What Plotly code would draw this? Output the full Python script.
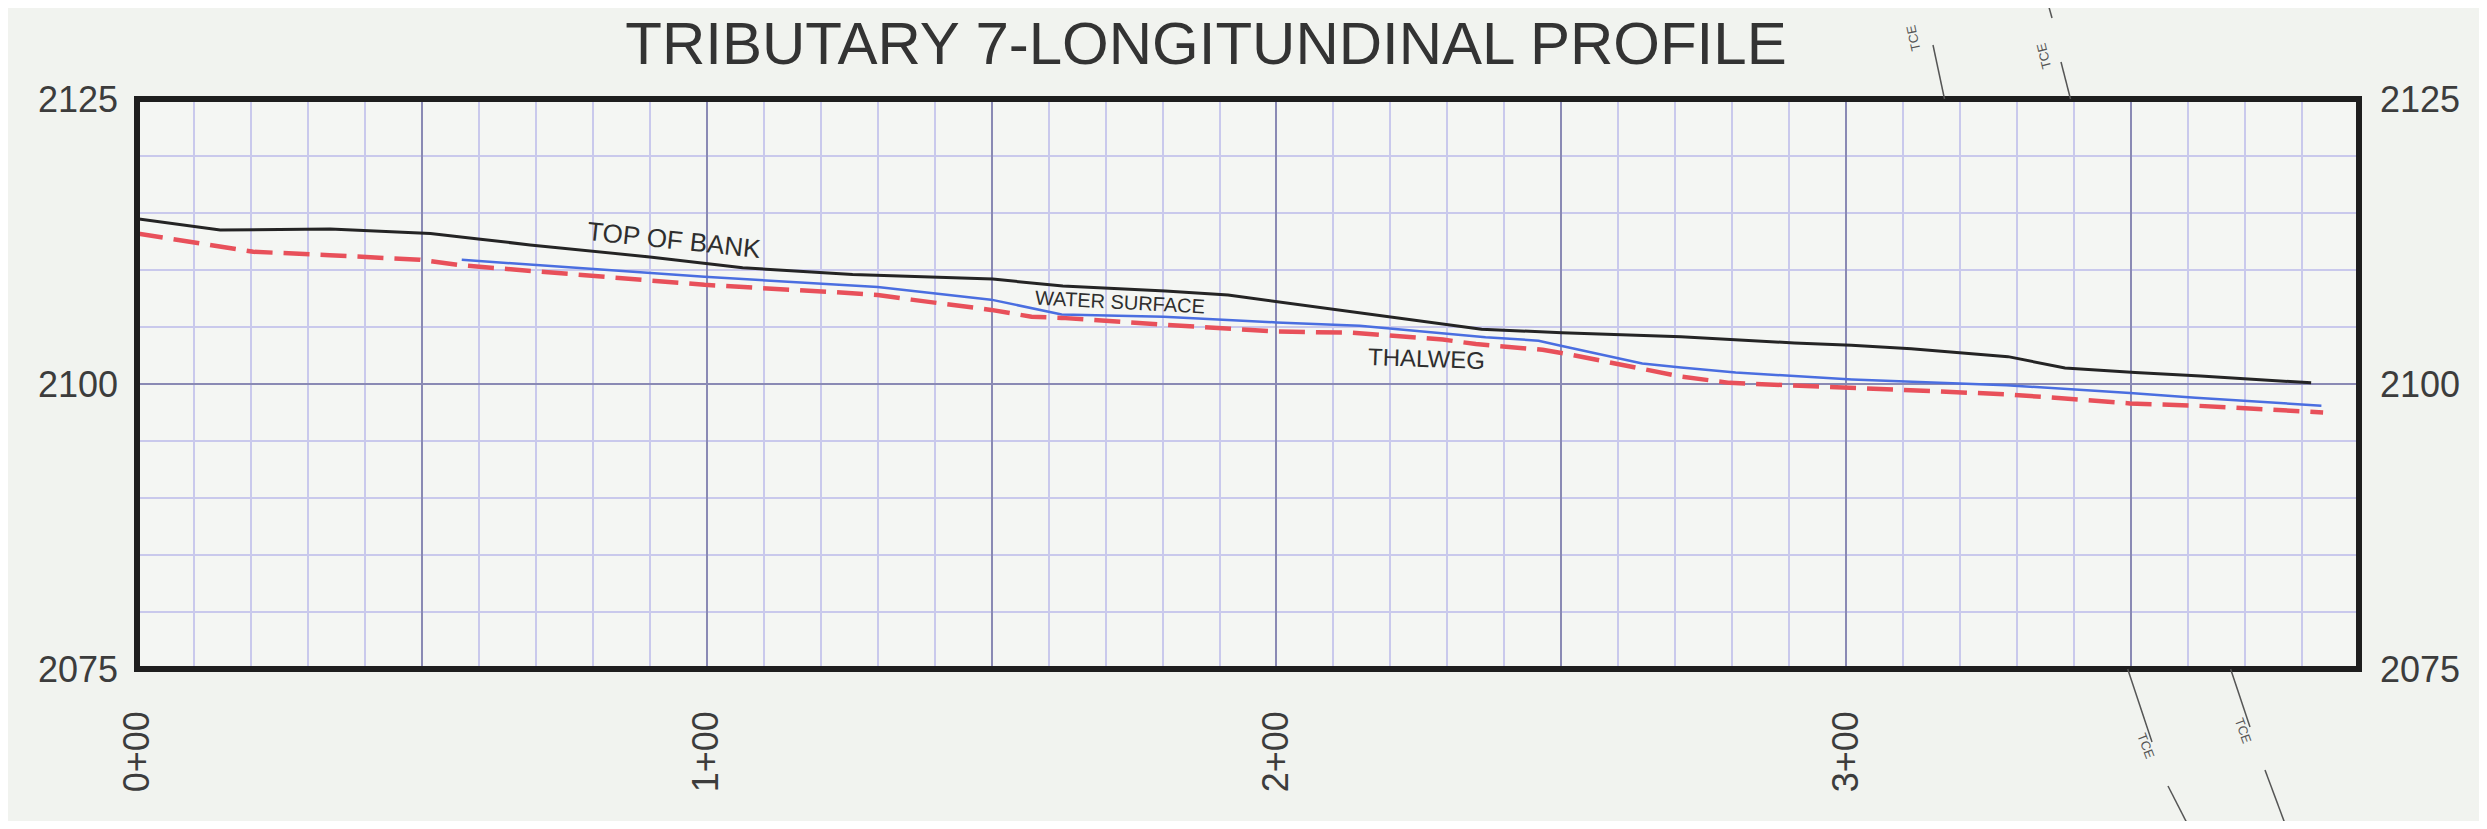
import numpy as np
import plotly.graph_objects as go

# ---------------- data (stations in ft, elevations in ft) ----------------
bank_sta = [0, 14.6, 33.9, 51.5, 60.3, 69.0, 90.0, 99.8, 106.3, 125.6, 150.2, 162.5,
            180.5, 191.5, 200.3, 210.2, 220.8, 236.0, 250.1, 271.0, 290.9, 300.9,
            311.4, 328.4, 338.4, 350.7, 362.2, 381.6]
bank_elev = [2114.5, 2113.5, 2113.6, 2113.2, 2112.7, 2112.2, 2111.15, 2110.6, 2110.2,
             2109.6, 2109.2, 2108.6, 2108.15, 2107.8, 2107.2, 2106.5, 2105.8, 2104.8,
             2104.5, 2104.15, 2103.6, 2103.4, 2103.1, 2102.4, 2101.4, 2101.0, 2100.7,
             2100.1]

ws_sta = [57.0, 90.0, 99.6, 130.0, 149.9, 162.3, 180.2, 200.0, 214.6, 236.7, 246.0,
          249.5, 264.2, 271.0, 280.6, 301.0, 328.1, 349.8, 361.3, 383.4]
ws_elev = [2110.9, 2109.7, 2109.4, 2108.5, 2107.4, 2106.1, 2105.9, 2105.4, 2105.1,
           2104.1, 2103.8, 2103.4, 2101.8, 2101.45, 2101.0, 2100.4, 2099.9, 2099.2,
           2098.8, 2098.1]

thal_sta = [0, 20.4, 33.8, 49.6, 57.2, 90.0, 99.6, 124.2, 130.0, 135.9, 149.9, 157.0,
            162.3, 180.2, 200.0, 213.4, 229.2, 235.0, 246.7, 251.4, 271.0, 279.5,
            301.0, 328.1, 349.8, 361.3, 383.7]
thal_elev = [2113.2, 2111.6, 2111.3, 2110.9, 2110.4, 2109.15, 2108.7, 2108.0, 2107.8,
             2107.4, 2106.5, 2105.9, 2105.8, 2105.2, 2104.6, 2104.5, 2103.9, 2103.5,
             2103.0, 2102.6, 2100.65, 2100.1, 2099.7, 2099.1, 2098.3, 2098.1, 2097.5]

x_label_vals = [0, 100, 200, 300]
x_label_text = ["0+00", "1+00", "2+00", "3+00"]
y_label_vals = [2075, 2100, 2125]

title_text = "TRIBUTARY 7-LONGITUNDINAL PROFILE"

# ---------------- layout helpers ----------------
OFF = 8                      # page body margin
W, H = 2487 - 2 * OFF, 829 - 2 * OFF
PW, PH = 2222, 570
L, T = 137 - OFF, 99 - OFF
R, B = W - L - PW, H - T - PH
X_RANGE = [0, 390]
Y_RANGE = [2075, 2125]


def px(xp):
    """page pixel x -> paper fraction"""
    return (xp - OFF - L) / PW


def py(yp):
    """page pixel y -> paper fraction"""
    return (T + PH - (yp - OFF)) / PH


major_x = list(range(0, 351, 50))
major_x_text = [x_label_text[x_label_vals.index(v)] if v in x_label_vals else "" for v in major_x]
minor_x = list(range(0, 391, 10))
minor_y = list(range(2075, 2126, 5))

FONT = "Liberation Sans, Arial, sans-serif"
GRID_MAJOR = "#8a8ab4"
GRID_MINOR = "#c9c9ec"

fig = go.Figure()

fig.add_trace(go.Scatter(x=bank_sta, y=bank_elev, mode="lines", name="Top of Bank",
                         line=dict(color="#242424", width=3), hoverinfo="x+y"))
fig.add_trace(go.Scatter(x=ws_sta, y=ws_elev, mode="lines", name="Water Surface",
                         line=dict(color="#4a6ee0", width=2.5), hoverinfo="x+y"))
fig.add_trace(go.Scatter(x=thal_sta, y=thal_elev, mode="lines", name="Thalweg",
                         line=dict(color="#e8505a", width=4.5, dash="26px,11px"),
                         hoverinfo="x+y"))
# invisible trace carrying the right-hand elevation axis
fig.add_trace(go.Scatter(x=bank_sta, y=bank_elev, mode="lines", yaxis="y2",
                         line=dict(width=0, color="rgba(0,0,0,0)"), hoverinfo="skip",
                         showlegend=False))

tick_font = dict(family=FONT, size=36, color="#3c3c3c")

fig.update_layout(
    width=W, height=H, autosize=False,
    margin=dict(l=L, r=R, t=T, b=B, pad=0),
    paper_bgcolor="#f1f3ef", plot_bgcolor="#f4f6f3",
    showlegend=False,
    title=dict(text=title_text, x=(1206 - OFF) / W, xanchor="center",
               y=1 - (43 - OFF) / H, yanchor="middle", yref="container",
               font=dict(family=FONT, size=60, color="#333333")),
    xaxis=dict(range=X_RANGE, tickmode="array", tickvals=major_x, ticktext=major_x_text,
               tickangle=-90, tickfont=tick_font, ticks="", ticklabelstandoff=34,
               showgrid=True, gridcolor=GRID_MAJOR, gridwidth=2,
               minor=dict(tickmode="array", tickvals=minor_x, showgrid=True,
                          gridcolor=GRID_MINOR, gridwidth=2, ticks=""),
               showline=False, zeroline=False, fixedrange=True),
    yaxis=dict(range=Y_RANGE, tickmode="array", tickvals=y_label_vals,
               tickfont=tick_font, ticks="", ticklabelstandoff=18,
               showgrid=True, gridcolor=GRID_MAJOR, gridwidth=2,
               minor=dict(tickmode="array", tickvals=minor_y, showgrid=True,
                          gridcolor=GRID_MINOR, gridwidth=2, ticks=""),
               showline=False, zeroline=False, fixedrange=True),
    yaxis2=dict(range=Y_RANGE, tickmode="array", tickvals=y_label_vals, overlaying="y",
                side="right", tickfont=tick_font, ticks="", ticklabelstandoff=20,
                showgrid=False, showline=False, zeroline=False, fixedrange=True),
)

# plot frame
fig.add_shape(type="rect", xref="paper", yref="paper", x0=0, y0=0, x1=1, y1=1,
              line=dict(color="#1e1e1e", width=6), layer="above")

# line labels, positioned relative to the profile lines
lab_font = dict(family=FONT, color="#2e2e2e")
fig.add_annotation(x=94.4, y=float(np.interp(94.4, bank_sta, bank_elev)) + 1.75,
                   text="TOP OF BANK", showarrow=False, textangle=6,
                   font=dict(size=26, **lab_font))
fig.add_annotation(x=172.6, y=float(np.interp(172.6, ws_sta, ws_elev)) + 1.2,
                   text="WATER SURFACE", showarrow=False, textangle=3,
                   font=dict(size=20, **lab_font))
fig.add_annotation(x=226.3, y=float(np.interp(226.3, thal_sta, thal_elev)) - 1.8,
                   text="THALWEG", showarrow=False, textangle=2,
                   font=dict(size=24, **lab_font))

# TCE (temporary construction easement) crossing marks, given in page pixels
tce_color = "#555555"
tce_segments = [
    ((1944.5, 99), (1933, 45)),
    ((2070.5, 99), (2061, 62)),
    ((2052, 18), (2047, 0)),
    ((2127.7, 669), (2152, 742)),
    ((2168, 786), (2190, 829)),
    ((2230.6, 669), (2250, 727)),
    ((2265, 770), (2287, 829)),
]
for (xa, ya), (xb, yb) in tce_segments:
    fig.add_shape(type="line", xref="paper", yref="paper",
                  x0=px(xa), y0=py(ya), x1=px(xb), y1=py(yb),
                  line=dict(color=tce_color, width=1.5), layer="above")
tce_texts = [((1926, 22), -102), ((2057, 39), -104), ((2160, 763), 69), ((2257, 748), 70)]
for (xt, yt), ang in tce_texts:
    fig.add_annotation(xref="paper", yref="paper", x=px(xt), y=py(yt), text="TCE",
                       showarrow=False, textangle=ang,
                       font=dict(family=FONT, size=13, color=tce_color))

fig.write_html("out.html")
